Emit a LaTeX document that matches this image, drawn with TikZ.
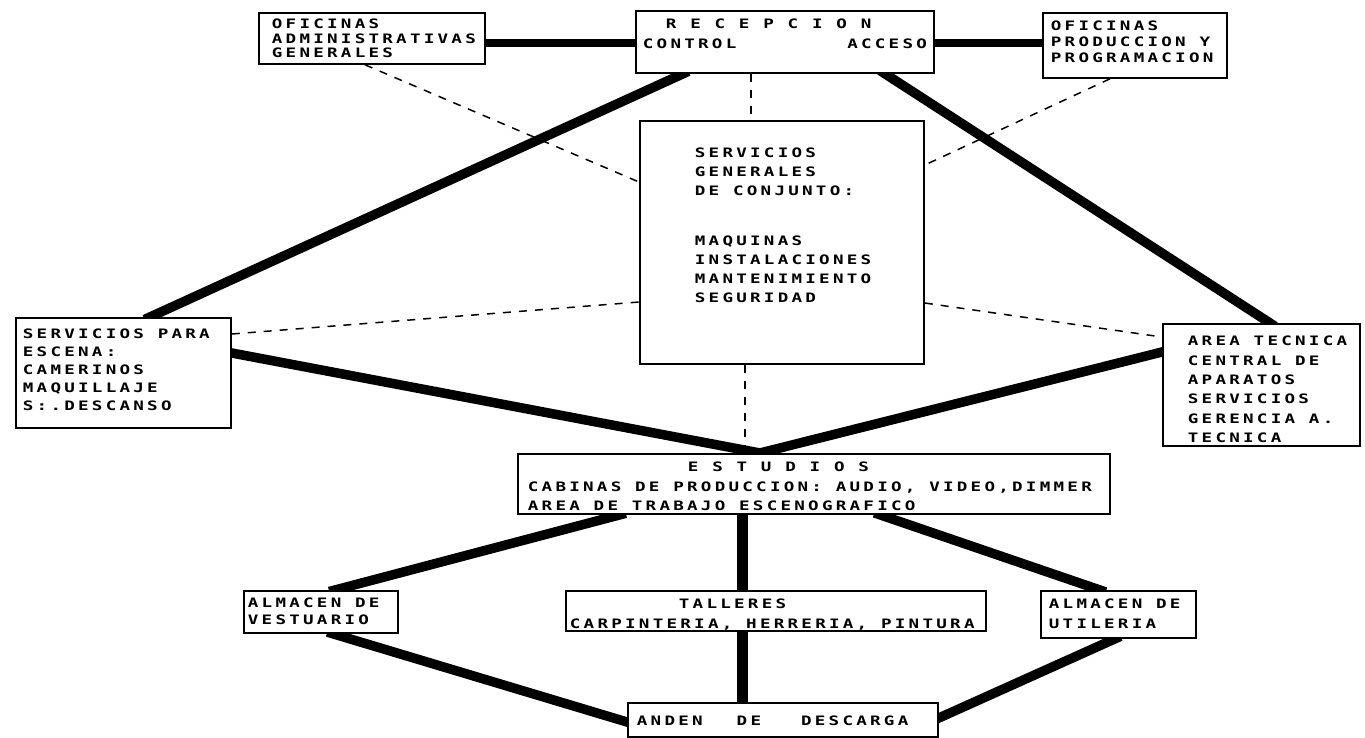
\documentclass[tikz,border=0pt]{standalone}
\usepackage{fontspec}
\usetikzlibrary{calc}
\newfontfamily\plotfam[FakeStretch=1.35, LetterSpace=25]{DejaVu Sans Mono}
\newcommand\pf{\plotfam\bfseries\fontsize{13}{19}\selectfont}
\newcommand\wsp{\kern13.8pt\relax}
\pgfdeclarelayer{bg}
\pgfsetlayers{bg,main}
\begin{document}
\begin{tikzpicture}[x=1pt,y=-1pt,
  lh/.style={font={\pf\fontsize{13}{#1}\selectfont}},
  box/.style={draw, line width=1.8pt, fill=white, anchor=north west, align=left,
    inner xsep=0pt, inner ysep=0pt, lh=19},
  heavy/.style={line width=9.5pt, shorten <=-6pt, shorten >=-6pt},
  dashlink/.style={line width=1.5pt, dash pattern=on 8pt off 8pt}]
\useasboundingbox (0,0) rectangle (1365,737);

% boxes
\node[box, lh=14.5, minimum width=226pt, minimum height=51pt, text width=200pt,
  text height=15.75pt, text depth=35.25pt] (admin) at (258,12)
  {OFICINAS\\ADMINISTRATIVAS\\GENERALES};
\node[box, lh=20, minimum width=298pt, minimum height=62pt, text width=284pt,
  text height=17.75pt, text depth=44.25pt] (recep) at (635,10)
  {\hspace*{23pt}R\wsp E\wsp C\wsp E\wsp P\wsp C\wsp I\wsp O\wsp N\\CONTROL\hfill ACCESO};
\node[box, lh=16, minimum width=184pt, minimum height=65pt, text width=168pt,
  text height=17.75pt, text depth=47.25pt] (prod) at (1042,12)
  {OFICINAS\\PRODUCCION\wsp Y\\PROGRAMACION};
\node[box, lh=19, minimum width=284pt, minimum height=243pt, text width=174pt,
  text height=36.75pt, text depth=206.25pt] (sg) at (639,120)
  {SERVICIOS\\GENERALES\\DE\wsp CONJUNTO:\\[31pt]MAQUINAS\\INSTALACIONES\\MANTENIMIENTO\\SEGURIDAD};
\node[box, lh=18, minimum width=215pt, minimum height=110pt, text width=201pt,
  text height=20.75pt, text depth=89.25pt] (escena) at (15,317)
  {SERVICIOS\wsp PARA\\ESCENA:\\CAMERINOS\\MAQUILLAJE\\S:.DESCANSO};
\node[box, lh=19.4, minimum width=197pt, minimum height=122pt, text width=147pt,
  text height=21.75pt, text depth=100.25pt] (area) at (1162,323)
  {AREA\wsp TECNICA\\CENTRAL\wsp DE\\APARATOS\\SERVICIOS\\GERENCIA\wsp A.\\TECNICA};
\node[box, lh=19.5, minimum width=592pt, minimum height=60pt, text width=572pt,
  text height=17.75pt, text depth=42.25pt] (estudios) at (517,453)
  {\hspace*{160pt}E\wsp S\wsp T\wsp U\wsp D\wsp I\wsp O\wsp S\\CABINAS\wsp DE\wsp PRODUCCION:\wsp AUDIO,\wsp VIDEO,DIMMER\\AREA\wsp DE\wsp TRABAJO\wsp ESCENOGRAFICO};
\node[box, lh=17, minimum width=154pt, minimum height=42pt, text width=146pt,
  text height=16.75pt, text depth=25.25pt] (vest) at (243,590)
  {ALMACEN\wsp DE\\VESTUARIO};
\node[box, lh=20, minimum width=420pt, minimum height=40pt, text width=412pt,
  text height=17.75pt, text depth=22.25pt] (tall) at (565,590)
  {\hspace*{109pt}TALLERES\\CARPINTERIA,\wsp HERRERIA,\wsp PINTURA};
\node[box, lh=20, minimum width=155pt, minimum height=47pt, text width=139pt,
  text height=17.75pt, text depth=29.25pt] (util) at (1040,590)
  {ALMACEN\wsp DE\\UTILERIA};
\node[box, minimum width=310pt, minimum height=34pt, text width=292pt,
  text height=22.75pt, text depth=11.25pt] (anden) at (627,702)
  {ANDEN\hspace*{34pt}DE\hspace*{40pt}DESCARGA};

% connection points
\coordinate (vtip) at ($(estudios.north west)+(243,0)$);

\begin{pgfonlayer}{bg}
\fill[white] (0,0) rectangle (1365,737);
% heavy links
\draw[heavy, line width=8pt] ($(admin.north east)+(0,31)$) -- ($(recep.north west)+(0,33)$);
\draw[heavy, line width=8pt] ($(recep.north east)+(0,33)$) -- ($(prod.north west)+(0,31)$);
\draw[heavy] ($(recep.south west)+(48,0)$) -- ($(escena.north west)+(135,0)$);
\draw[heavy] ($(recep.south west)+(250,0)$) -- ($(area.north west)+(108,0)$);
\draw[heavy] ($(escena.north east)+(0,36)$) -- (vtip);
\draw[heavy] ($(area.north west)+(0,29)$) -- (vtip);
\draw[heavy] ($(estudios.south west)+(103,0)$) -- ($(vest.north west)+(92,0)$);
\draw[heavy, line width=11pt] ($(estudios.south west)+(225,0)$) -- ($(tall.north west)+(177,0)$);
\draw[heavy] ($(estudios.south west)+(363,0)$) -- ($(util.north west)+(60,0)$);
\draw[heavy] ($(vest.south west)+(90,0)$) -- ($(anden.north west)+(0,20)$);
\draw[heavy, line width=11pt] ($(tall.south west)+(177,0)$) -- ($(anden.north west)+(115,0)$);
\draw[heavy] ($(util.south west)+(75,0)$) -- ($(anden.north east)+(0,16)$);
% dashed links
\draw[dashlink] ($(admin.south west)+(107,0)$) -- ($(sg.north west)+(0,62)$);
\draw[dashlink] ($(recep.south west)+(116,0)$) -- ($(sg.north west)+(112,0)$);
\draw[dashlink] ($(prod.south west)+(68,0)$) -- ($(sg.north east)+(0,45)$);
\draw[dashlink] ($(escena.north east)+(0,17)$) -- ($(sg.north west)+(0,182)$);
\draw[dashlink] ($(sg.north east)+(0,183)$) -- ($(area.north west)+(0,14)$);
\draw[dashlink] ($(sg.south west)+(106,0)$) -- ($(estudios.north west)+(228,0)$);
\end{pgfonlayer}
\end{tikzpicture}
\end{document}
